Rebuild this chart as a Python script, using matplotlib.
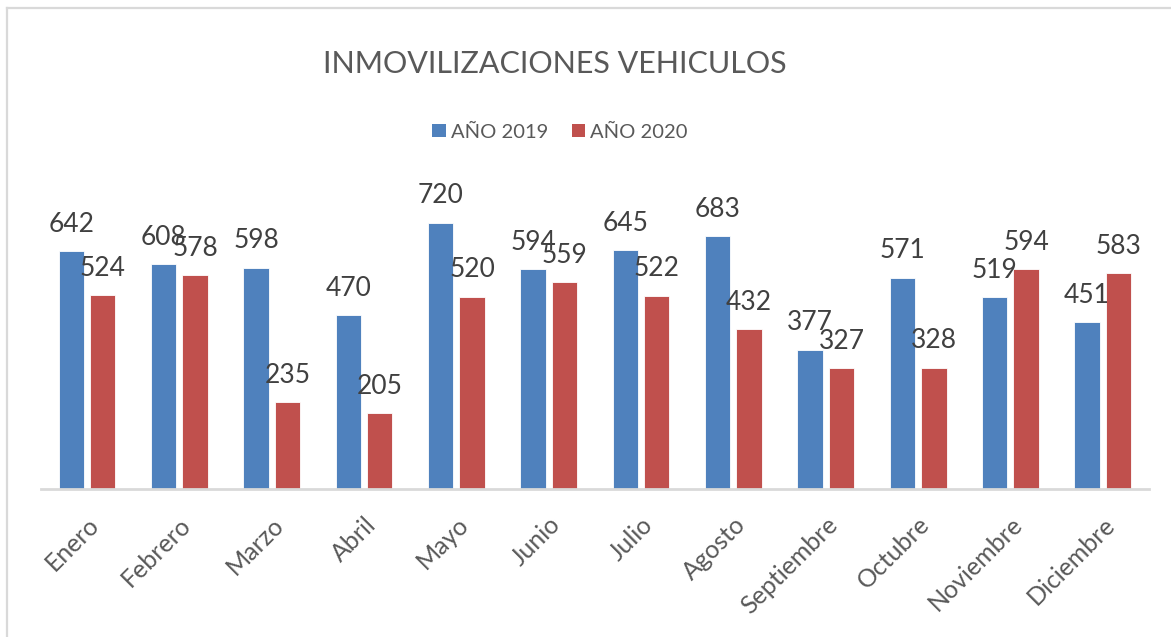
import matplotlib
matplotlib.use("Agg")
import matplotlib.pyplot as plt
import numpy as np
from matplotlib.lines import Line2D
from matplotlib.patches import Patch

months = ["Enero", "Febrero", "Marzo", "Abril", "Mayo", "Junio", "Julio",
          "Agosto", "Septiembre", "Octubre", "Noviembre", "Diciembre"]
values_2019 = [642, 608, 598, 470, 720, 594, 645, 683, 377, 571, 519, 451]
values_2020 = [524, 578, 235, 205, 520, 559, 522, 432, 327, 328, 594, 583]
series_names = ["AÑO 2019", "AÑO 2020"]

BLUE = "#4F81BD"
RED = "#C0504D"
GRAY = "#595959"

plt.rcParams["font.family"] = ["Lato", "DejaVu Sans"]

W, H = 1171, 637
fig = plt.figure(figsize=(W / 100, H / 100), dpi=100)
fig.patch.set_facecolor("white")

# plot area in pixel coords -> figure fraction
left, right, base, top = 40.8, 1149, 489, 193
ax = fig.add_axes([left / W, (H - base) / H, (right - left) / W, (base - top) / H])

x = np.arange(len(months))
off, bw = 0.17, 0.275
b1 = ax.bar(x - off, values_2019, bw, color=BLUE, edgecolor="white", linewidth=0.6)
b2 = ax.bar(x + off, values_2020, bw, color=RED, edgecolor="white", linewidth=0.6)

for bars, vals in ((b1, values_2019), (b2, values_2020)):
    for rect, v in zip(bars, vals):
        ax.annotate(str(v), (rect.get_x() + rect.get_width() / 2, v),
                    xytext=(0, 14), textcoords="offset points",
                    ha="center", va="baseline", fontsize=19, color="#404040")

ax.set_xlim(-0.5, len(months) - 0.5)
ax.set_ylim(0, 800)
ax.set_yticks([])
for s in ("top", "right", "left"):
    ax.spines[s].set_visible(False)
ax.spines["bottom"].set_color("#D9D9D9")
ax.spines["bottom"].set_linewidth(2)
ax.set_xticks(x)
ax.set_xticklabels(months, rotation=45, ha="right", rotation_mode="anchor",
                   fontsize=18, color=GRAY)
ax.tick_params(axis="x", length=0, pad=17)

fig.text(555 / W, 1 - 73 / H, "INMOVILIZACIONES VEHICULOS", ha="center",
         va="baseline", fontsize=22, color=GRAY)

handles = [Patch(facecolor=BLUE), Patch(facecolor=RED)]
fig.legend(handles, series_names, loc="center", bbox_to_anchor=(560 / W, 1 - 132 / H),
           ncol=2, frameon=False, fontsize=14.5, labelcolor=GRAY,
           handlelength=0.67, handleheight=0.67, handletextpad=0.25, columnspacing=1.2)

# chart border
fig.add_artist(Line2D([7 / W, 7 / W], [0, 1 - 8 / H], color="#D9D9D9", lw=1.6))
fig.add_artist(Line2D([7 / W, 1], [1 - 8 / H, 1 - 8 / H], color="#D9D9D9", lw=1.6))

fig.savefig("out.png", dpi=100, facecolor="white")
